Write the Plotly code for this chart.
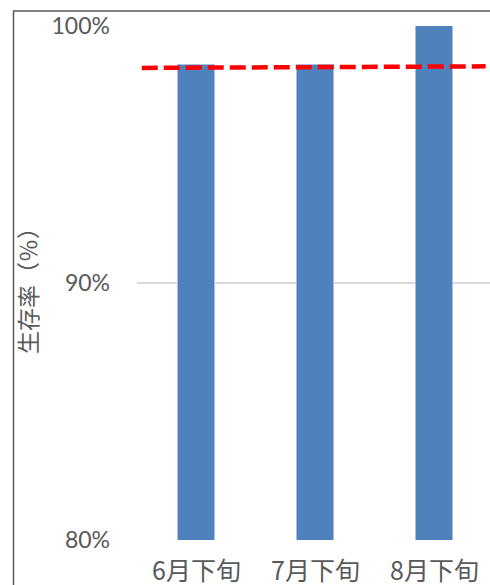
import plotly.graph_objects as go

categories = ["6月下旬", "7月下旬", "8月下旬"]
survival = [98.5, 98.5, 100.0]
ref_x = [-0.46, 2.43]
ref_y = [98.37, 98.43]
y_ticks = [80, 90, 100]
y_ticktext = ["80%", "90%", "100%"]

W, H = 490, 585
ML, MR, MT, MB = 137, 0, 26, 45
PW = W - ML - MR
PH = H - MT - MB

fig = go.Figure()
fig.add_trace(go.Bar(
    x=list(range(len(categories))), y=survival, width=0.31,
    marker=dict(color="#4F81BD", line=dict(color="#A7BEDE", width=1)),
    showlegend=False,
))
fig.add_trace(go.Scatter(
    x=ref_x, y=ref_y, mode="lines",
    line=dict(color="#FF0000", width=4.5, dash="16px,6px"),
    showlegend=False,
))

def px_x(p):
    return (p - ML) / PW

def px_y(p):
    return (H - MB - p) / PH

fig.update_layout(
    width=W, height=H,
    margin=dict(l=ML, r=MR, t=MT, b=MB, pad=0, autoexpand=False),
    paper_bgcolor="white", plot_bgcolor="white",
    font=dict(family="Lato, 'Noto Sans CJK JP'", color="#595959"),
    xaxis=dict(
        range=[-0.5, -0.5 + PW / 119.0], automargin=False,
        tickmode="array", tickvals=list(range(len(categories))), ticktext=categories,
        tickfont=dict(size=25, family="'Noto Sans CJK JP'", color="#595959"),
        showgrid=False, zeroline=False, showline=False,
        ticks="", ticklabelstandoff=14,
    ),
    yaxis=dict(
        range=[80, 100], automargin=False,
        tickmode="array", tickvals=y_ticks, ticktext=y_ticktext,
        tickfont=dict(size=23, family="Lato", color="#595959"),
        showgrid=True, gridcolor="#D9D9D9", gridwidth=1.5,
        zeroline=False, showline=False, ticks="", ticklabelstandoff=26,
    ),
    bargap=0,
    shapes=[
        dict(type="line", xref="paper", yref="paper",
             x0=px_x(13.5), x1=px_x(13.5), y0=px_y(11), y1=px_y(590),
             line=dict(color="#595959", width=1.5)),
        dict(type="line", xref="paper", yref="paper",
             x0=px_x(13), x1=px_x(495), y0=px_y(11), y1=px_y(11),
             line=dict(color="#595959", width=1.5)),
    ],
    annotations=[
        dict(text="生存率（％）", textangle=-90, xref="paper", yref="paper",
             x=px_x(27), y=px_y(285), xanchor="center", yanchor="middle",
             showarrow=False,
             font=dict(size=23, family="'Noto Sans CJK JP'", color="#595959")),
    ],
)

fig.write_html("out.html")
